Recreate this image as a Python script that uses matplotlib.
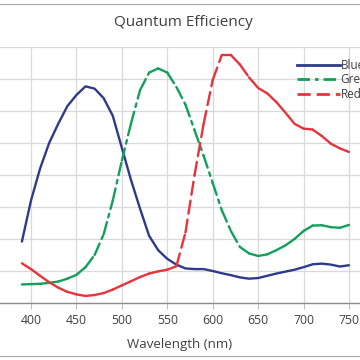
import matplotlib
matplotlib.use("Agg")
import matplotlib.pyplot as plt
from matplotlib.lines import Line2D

# wavelength (nm) and relative quantum efficiency (grid units)
wavelength = [390, 400, 410, 420, 430, 440, 450, 460, 470, 480, 490, 500,
              510, 520, 530, 540, 550, 560, 570, 580, 590, 600, 610, 620,
              630, 640, 650, 660, 670, 680, 690, 700, 710, 720, 730, 740, 750]
blue = [1.92, 3.2, 4.2, 5.0, 5.6, 6.15, 6.5, 6.77, 6.7, 6.4, 5.85, 4.85,
        3.85, 2.95, 2.1, 1.65, 1.38, 1.2, 1.08, 1.06, 1.06, 1.0, 0.93, 0.87,
        0.8, 0.76, 0.78, 0.85, 0.92, 0.98, 1.04, 1.12, 1.21, 1.23, 1.2, 1.14, 1.18]
green = [0.58, 0.59, 0.6, 0.63, 0.67, 0.76, 0.88, 1.12, 1.5, 2.15, 3.2, 4.45,
         5.6, 6.65, 7.2, 7.33, 7.2, 6.75, 6.2, 5.4, 4.6, 3.75, 2.9, 2.25,
         1.75, 1.55, 1.47, 1.52, 1.65, 1.8, 2.0, 2.25, 2.42, 2.43, 2.37, 2.35, 2.44]
red = [1.24, 1.06, 0.85, 0.65, 0.48, 0.35, 0.27, 0.22, 0.25, 0.31, 0.42, 0.55,
       0.68, 0.81, 0.92, 0.99, 1.04, 1.15, 2.2, 4.0, 5.6, 6.97, 7.75, 7.75,
       7.45, 7.05, 6.72, 6.55, 6.28, 5.95, 5.6, 5.45, 5.42, 5.22, 4.98, 4.83, 4.72]
labels = ["Blue", "Green", "Red"]
xticks = [400, 450, 500, 550, 600, 650, 700, 750]

plt.rcParams["font.family"] = ["Open Sans", "DejaVu Sans"]
plt.rcParams["lines.scale_dashes"] = False

c_blue = "#2e3a8c"
c_green = "#12a05a"
c_red = "#e8333b"
txt = "#404040"

green_dash = (0, (9.0, 3.6, 2.6, 3.6))
red_dash = (0, (9.5, 4.3))

fig = plt.figure(figsize=(3.6, 3.6), dpi=100)
ax = fig.add_axes([0.0, 1 - 303 / 360, 1.0, 256 / 360])

ax.plot(wavelength, blue, color=c_blue, lw=1.7, solid_capstyle="round")

# dash pattern restarts on every segment (like the original chart)
for i in range(len(wavelength) - 1):
    ax.plot(wavelength[i:i + 2], green[i:i + 2], color=c_green, lw=1.7,
            linestyle=green_dash, dash_capstyle="round")
    ax.plot(wavelength[i:i + 2], red[i:i + 2], color=c_red, lw=1.7,
            linestyle=red_dash, dash_capstyle="round")

ax.set_xlim(365.9, 762.1)
ax.set_ylim(0, 8)
ax.set_xticks(xticks)
ax.set_xticklabels([str(t) for t in xticks], fontsize=8.8, color=txt)
ax.set_yticks(range(0, 9))
ax.set_yticklabels([])
ax.tick_params(axis="y", length=0)
ax.tick_params(axis="x", length=4, color="#bfbfbf", pad=4)
ax.grid(True, color="#d9d9d9", lw=0.9)
ax.set_axisbelow(True)
for s in ["left", "right", "top"]:
    ax.spines[s].set_visible(False)
ax.spines["bottom"].set_color("#8c8c8c")
ax.spines["bottom"].set_linewidth(1.0)
ax.set_xlabel("Wavelength (nm)", fontsize=9.5, color=txt, labelpad=8)

fig.text(0.508, 1 - 23 / 360, "Quantum Efficiency", ha="center", va="center",
         fontsize=11, color=txt)

handles = [
    Line2D([], [], color=c_blue, lw=2),
    Line2D([], [], color=c_green, lw=2, linestyle=green_dash),
    Line2D([], [], color=c_red, lw=2, linestyle=red_dash),
]
fig.legend(handles, labels, loc="upper left",
           bbox_to_anchor=(297 / 360, 1 - 59 / 360), frameon=False,
           fontsize=8.5, handlelength=3.6, handletextpad=0.1,
           labelspacing=0.12, labelcolor=txt, borderaxespad=0, borderpad=0)

# chart border lines
fig.add_artist(Line2D([0, 1], [1 - 4 / 360, 1 - 4 / 360], color="#a6a6a6", lw=0.8))
fig.add_artist(Line2D([0, 1], [1 - 356 / 360, 1 - 356 / 360], color="#a6a6a6", lw=0.8))

fig.savefig("out.png", dpi=100)
